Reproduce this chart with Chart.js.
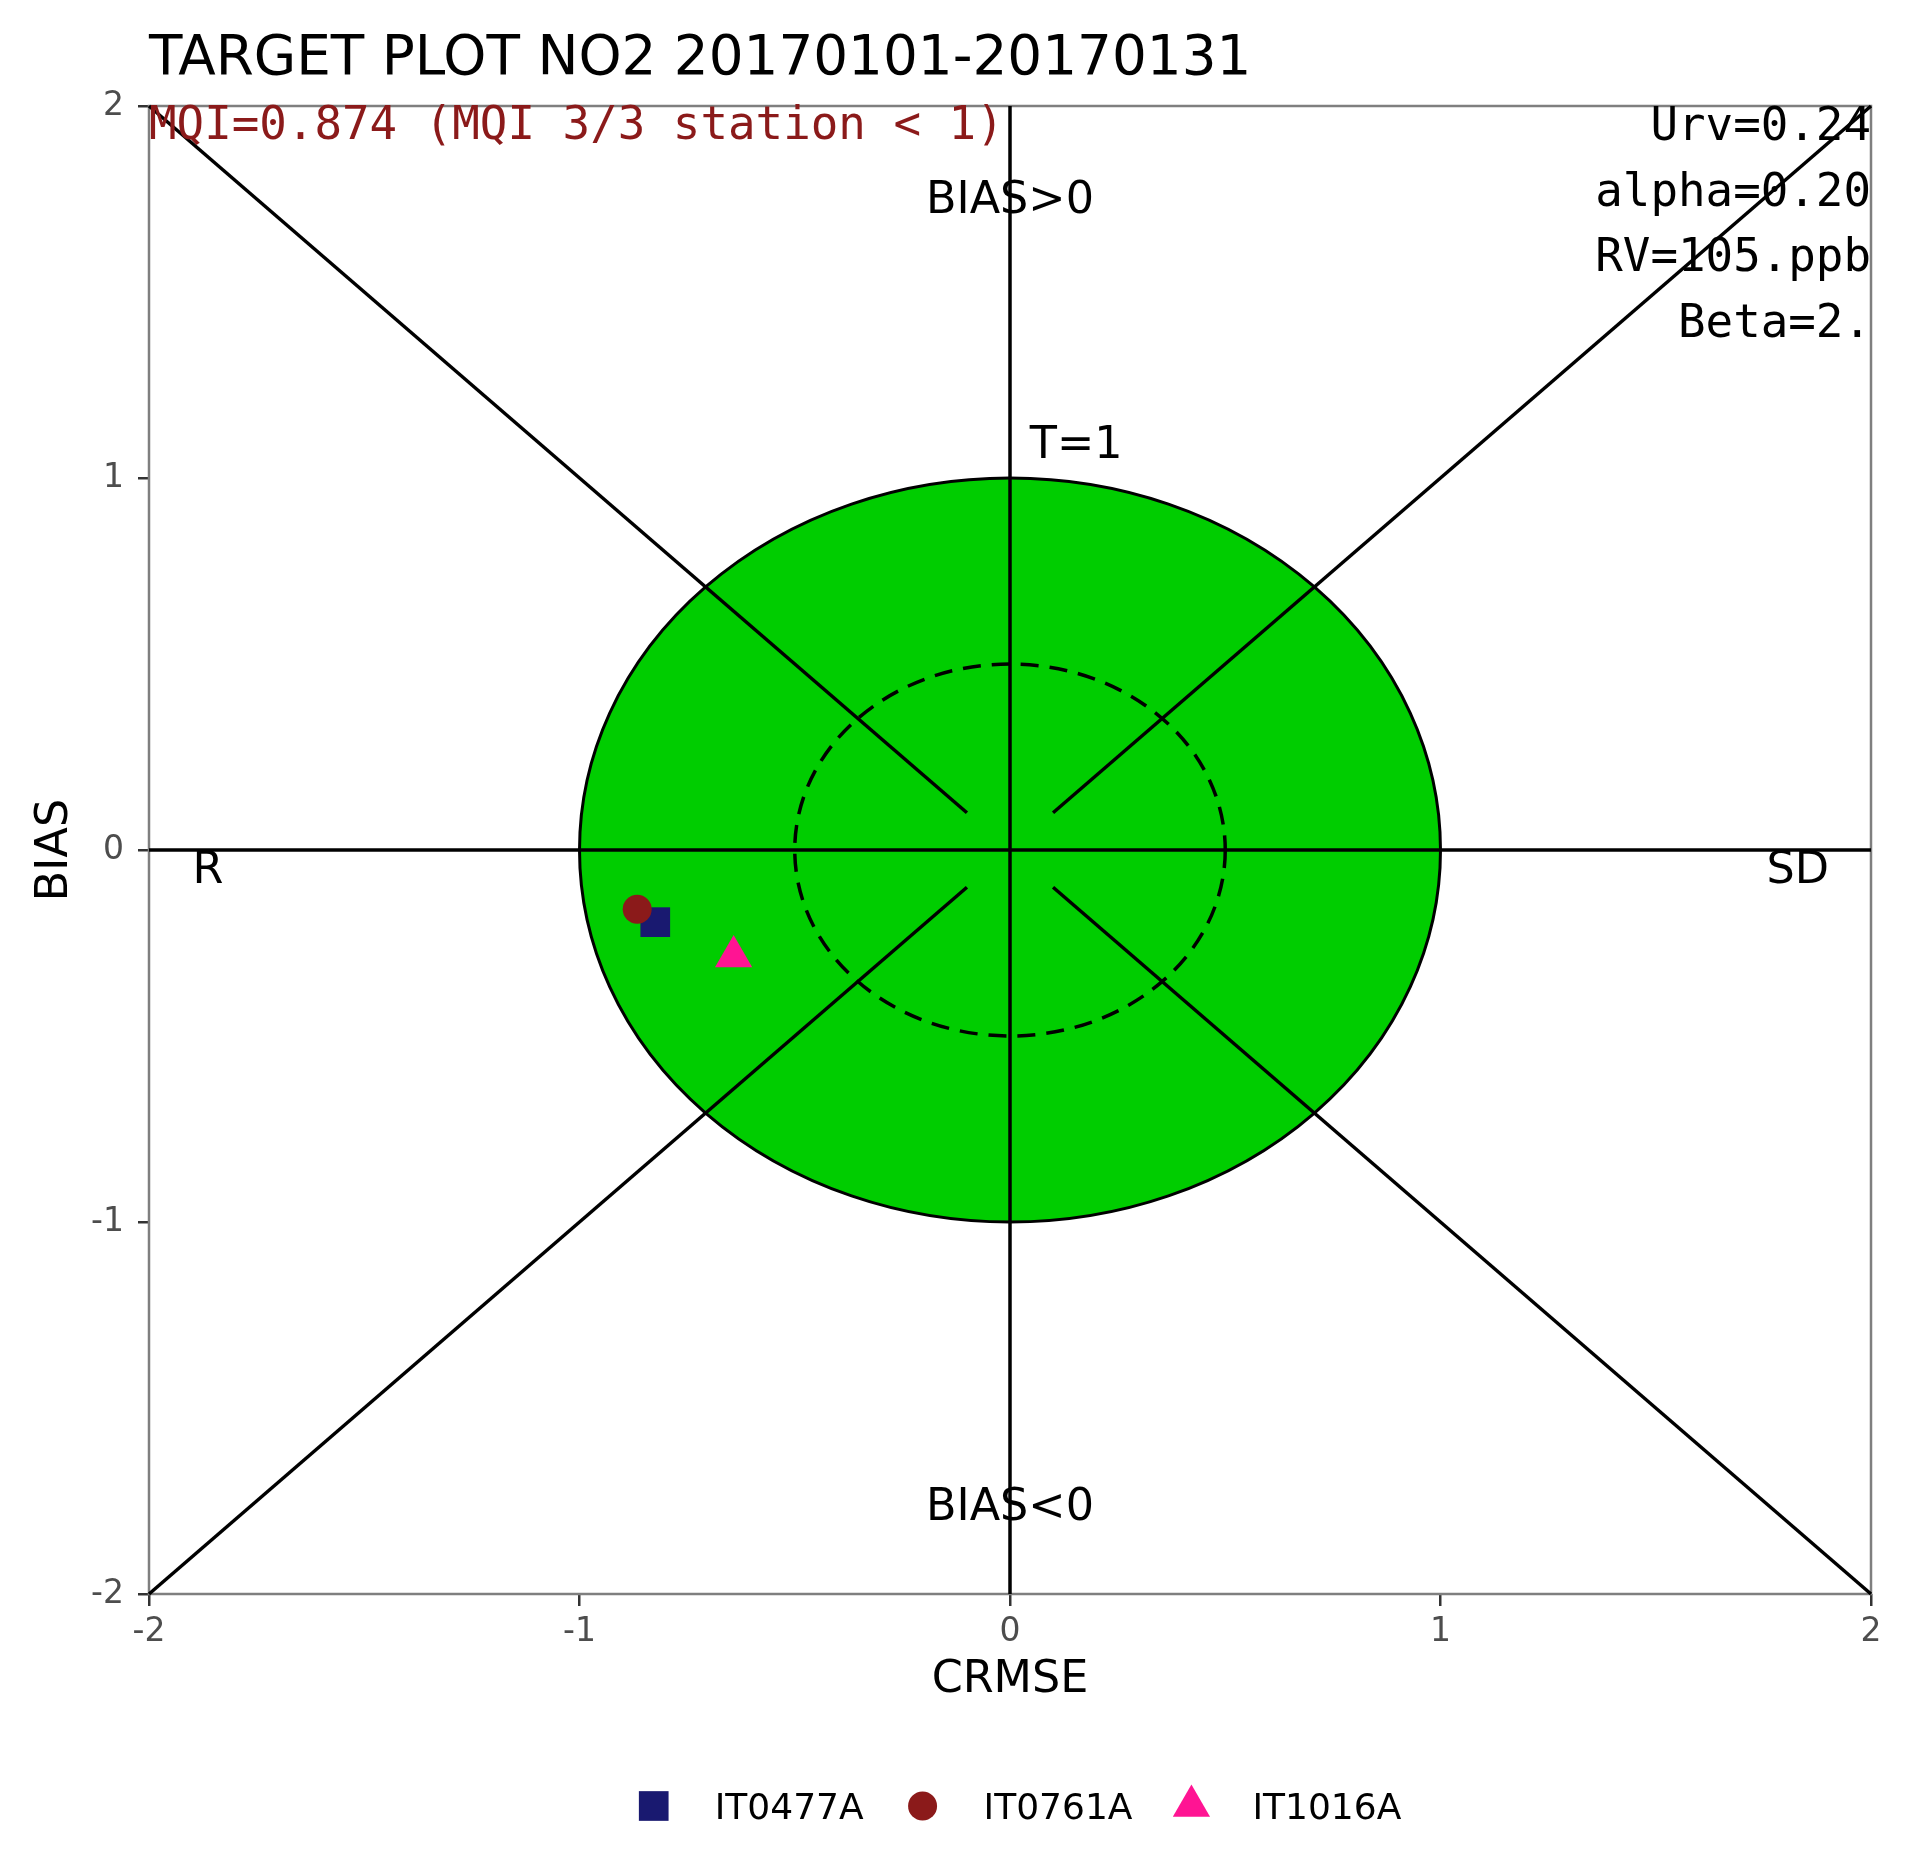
<!DOCTYPE html>
<html>
<head>
<meta charset="utf-8">
<title>Target plot NO2</title>
<script src="https://cdn.jsdelivr.net/npm/chart.js@4.4.1/dist/chart.umd.min.js"></script>
<style>
  html, body { margin: 0; padding: 0; background: #fff; }
  canvas { display: block; }
</style>
</head>
<body>
<canvas id="target" width="1928" height="1851"></canvas>
<script>
// values
var stations = ['IT0477A', 'IT0761A', 'IT1016A'];
var crmse = [-0.824, -0.866, -0.642];
var bias = [-0.194, -0.159, -0.286];
var tickValues = [-2, -1, 0, 1, 2];
var chartTitle = 'TARGET PLOT NO2 20170101-20170131';
var mqiLabel = 'MQI=0.874 (MQI 3/3 station < 1)';
var infoLines = ['Urv=0.24', 'alpha=0.20', 'RV=105.ppb', 'Beta=2.'];
var targetRadius = 1;
var innerRadius = 0.5;

// marker look per station
var markers = [
    {style: 'rect', radius: 21, color: '#191970', order: 1},
    {style: 'circle', radius: 14.5, color: '#8b1a1a', order: 0},
    {style: 'triangle', radius: 21.5, color: '#ff1493', order: 2}
];

var SANS = '"DejaVu Sans", sans-serif';
var MONO = '"DejaVu Sans Mono", monospace';

function drawMarker(ctx, m, x, y) {
    var r = m.radius;
    ctx.fillStyle = m.color;
    ctx.beginPath();
    if (m.style === 'rect') {
        var s = r * Math.SQRT1_2;
        ctx.rect(x - s, y - s, 2 * s, 2 * s);
    } else if (m.style === 'circle') {
        ctx.arc(x, y, r, 0, Math.PI * 2);
    } else {
        ctx.moveTo(x, y - r);
        ctx.lineTo(x + r * 0.866, y + r * 0.5);
        ctx.lineTo(x - r * 0.866, y + r * 0.5);
        ctx.closePath();
    }
    ctx.fill();
}

var targetDecor = {
    id: 'targetDecor',
    beforeDatasetsDraw: function(chart) {
        var ctx = chart.ctx, a = chart.chartArea;
        var xs = chart.scales.x, ys = chart.scales.y;
        var px = function(v) { return xs.getPixelForValue(v); };
        var py = function(v) { return ys.getPixelForValue(v); };
        ctx.save();
        // panel frame
        ctx.strokeStyle = '#7f7f7f';
        ctx.lineWidth = 2.5;
        ctx.strokeRect(a.left, a.top, a.right - a.left, a.bottom - a.top);
        // green target T=1
        ctx.beginPath();
        ctx.ellipse(px(0), py(0), px(targetRadius) - px(0), py(0) - py(targetRadius), 0, 0, Math.PI * 2);
        ctx.fillStyle = '#00cd00';
        ctx.fill();
        ctx.strokeStyle = '#000';
        ctx.lineWidth = 3;
        ctx.stroke();
        // dashed inner circle
        ctx.beginPath();
        ctx.setLineDash([18, 11]);
        ctx.ellipse(px(0), py(0), px(innerRadius) - px(0), py(0) - py(innerRadius), 0, 0, Math.PI * 2);
        ctx.lineWidth = 3.5;
        ctx.stroke();
        ctx.setLineDash([]);
        // cross and diagonals
        var segs = [
            [0, -2, 0, 2], [-2, 0, 2, 0],
            [-2, 2, -0.1, 0.1], [2, 2, 0.1, 0.1],
            [-2, -2, -0.1, -0.1], [2, -2, 0.1, -0.1]
        ];
        ctx.lineWidth = 3.5;
        segs.forEach(function(s) {
            ctx.beginPath();
            ctx.moveTo(px(s[0]), py(s[1]));
            ctx.lineTo(px(s[2]), py(s[3]));
            ctx.stroke();
        });
        ctx.restore();
    },
    afterDraw: function(chart) {
        var ctx = chart.ctx, a = chart.chartArea;
        var xs = chart.scales.x, ys = chart.scales.y;
        var px = function(v) { return xs.getPixelForValue(v); };
        var py = function(v) { return ys.getPixelForValue(v); };
        ctx.save();
        ctx.textBaseline = 'alphabetic';

        // title
        ctx.font = '54.8px ' + SANS;
        ctx.fillStyle = '#000';
        ctx.textAlign = 'left';
        ctx.fillText(chartTitle, a.left, 74);

        // MQI line and parameters
        ctx.font = '45.8px ' + MONO;
        ctx.fillStyle = '#8b1a1a';
        ctx.fillText(mqiLabel, a.left, 139);
        ctx.fillStyle = '#000';
        ctx.textAlign = 'right';
        infoLines.forEach(function(t, i) {
            ctx.fillText(t, a.right, 140 + i * 65.5);
        });

        // annotations
        ctx.font = '44.5px ' + SANS;
        ctx.textAlign = 'center';
        ctx.fillText('BIAS>0', px(0), py(1.712));
        ctx.fillText('BIAS<0', px(0), py(-1.8));
        ctx.fillText('R', px(-1.863), py(-0.089));
        ctx.fillText('SD', px(1.83), py(-0.089));
        ctx.textAlign = 'left';
        ctx.fillText('T=1', px(0.046), py(1.054));

        // legend
        ctx.font = '36px ' + SANS;
        var widths = stations.map(function(s) { return ctx.measureText(s).width; });
        var span = 15;
        widths.forEach(function(w, i) { span += 61 + w + (i < widths.length - 1 ? 59 : 0); });
        var cx = (a.left + a.right) / 2 + 10 - span / 2 + 15;
        var ly = 1806;
        stations.forEach(function(s, i) {
            drawMarker(ctx, markers[i], cx, ly);
            ctx.fillStyle = '#000';
            ctx.fillText(s, cx + 61, ly + 13);
            cx += 61 + widths[i] + 59;
        });
        ctx.restore();
    }
};

var datasets = stations.map(function(name, i) {
    return {
        label: name,
        data: [{x: crmse[i], y: bias[i]}],
        pointStyle: markers[i].style,
        pointRadius: markers[i].radius,
        backgroundColor: markers[i].color,
        borderWidth: 0,
        order: markers[i].order
    };
});

function axisOpts(tickLen, pad) {
    return {
        type: 'linear',
        min: -2,
        max: 2,
        afterBuildTicks: function(s) { s.ticks = tickValues.map(function(v) { return {value: v}; }); },
        grid: {drawOnChartArea: false, drawTicks: true, tickLength: tickLen, color: '#333', lineWidth: 2.5},
        border: {display: false},
        ticks: {font: {family: SANS, size: 33}, color: '#4d4d4d', padding: pad, maxRotation: 0, autoSkip: false}
    };
}

var xAxis = axisOpts(12, 7);
xAxis.title = {display: true, text: 'CRMSE', color: '#000', font: {family: SANS, size: 44.5}, padding: {top: 0, bottom: -3}};
xAxis.afterFit = function(s) { s.height = 110; };

var yAxis = axisOpts(11, 14);
yAxis.title = {display: true, text: 'BIAS', color: '#000', font: {family: SANS, size: 44.5}, padding: {top: 29, bottom: 0}};
yAxis.afterFit = function(s) { s.width = 149; };

new Chart(document.getElementById('target'), {
    type: 'scatter',
    data: {datasets: datasets},
    options: {
        responsive: false,
        animation: false,
        devicePixelRatio: 1,
        events: [],
        layout: {padding: {left: 0, right: 57, top: 106, bottom: 147}},
        plugins: {legend: {display: false}, tooltip: {enabled: false}},
        scales: {x: xAxis, y: yAxis}
    },
    plugins: [targetDecor]
});
</script>
</body>
</html>
